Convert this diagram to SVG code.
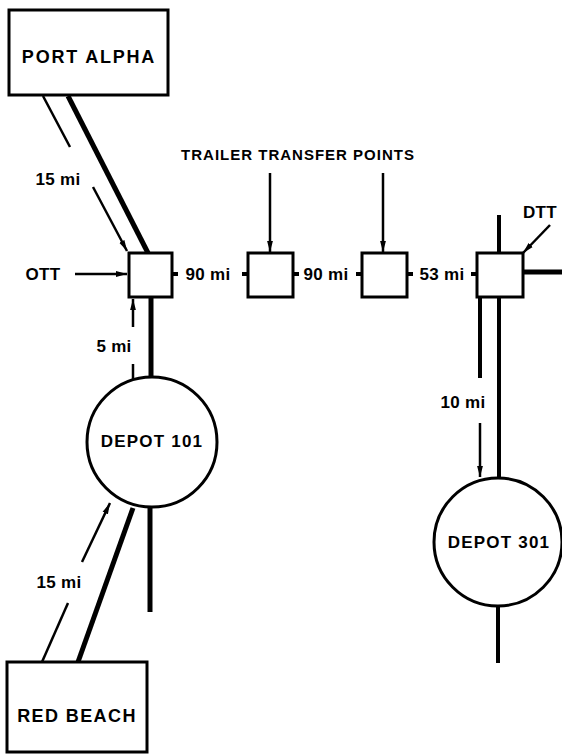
<svg xmlns="http://www.w3.org/2000/svg" width="562" height="754" viewBox="0 0 562 754">
<style>
text{font-family:"Liberation Sans",Arial,sans-serif;font-weight:bold;fill:#000}
.lbl{font-size:17px;text-anchor:middle;letter-spacing:0.3px}
.name{font-size:17px;text-anchor:middle;letter-spacing:1.2px}
.box{fill:#fff;stroke:#000;stroke-width:3}
.thick{stroke:#000;stroke-width:5;fill:none}
.med{stroke:#000;stroke-width:4;fill:none}
.thin{stroke:#000;stroke-width:2.5;fill:none}
</style>
<defs>
<marker id="ah" markerUnits="userSpaceOnUse" markerWidth="11" markerHeight="17" viewBox="0 0 17 11" refX="17" refY="5.5" orient="auto">
<path d="M0,1 L17,5.5 L0,10 Z" fill="#000"/>
</marker>
</defs>
<rect width="562" height="754" fill="#fff"/>
<g id="connectors">
<line class="thick" x1="68" y1="96" x2="148" y2="253"/>
<line class="thin" x1="43" y1="96" x2="70" y2="147"/>
<line class="thin" x1="93" y1="187" x2="127" y2="251" marker-end="url(#ah)"/>
<line class="thin" x1="75" y1="274" x2="127" y2="274" marker-end="url(#ah)"/>
<line class="thick" x1="151" y1="297" x2="151" y2="378"/>
<line class="thin" x1="133" y1="379" x2="133" y2="364"/>
<line class="thin" x1="133" y1="327" x2="133" y2="299" marker-end="url(#ah)"/>
<line class="thick" x1="150" y1="507" x2="150" y2="612"/>
<line class="thick" x1="133" y1="508" x2="78" y2="662"/>
<line class="thin" x1="42" y1="662" x2="68" y2="603"/>
<line class="thin" x1="82" y1="562" x2="110" y2="503" marker-end="url(#ah)"/>
<line class="thin" x1="270" y1="173" x2="270" y2="252" marker-end="url(#ah)"/>
<line class="thin" x1="383" y1="173" x2="383" y2="252" marker-end="url(#ah)"/>
<line class="med" x1="499" y1="215" x2="499" y2="253"/>
<line class="thick" x1="523" y1="272" x2="562" y2="272"/>
<line class="thin" x1="550" y1="225" x2="523" y2="253" marker-end="url(#ah)"/>
<line class="med" x1="480" y1="297" x2="480" y2="378"/>
<line class="thin" x1="480" y1="423" x2="480" y2="477" marker-end="url(#ah)"/>
<line class="med" x1="499" y1="297" x2="499" y2="477"/>
<line class="med" x1="498" y1="607" x2="498" y2="663"/>
<line class="med" x1="172" y1="274" x2="178" y2="274"/>
<line class="med" x1="242" y1="274" x2="248" y2="274"/>
<line class="med" x1="293" y1="274" x2="299" y2="274"/>
<line class="med" x1="356" y1="274" x2="362" y2="274"/>
<line class="med" x1="407" y1="274" x2="413" y2="274"/>
<line class="med" x1="471" y1="274" x2="477" y2="274"/>
</g>
<g id="port-alpha">
<rect class="box" x="9" y="10" width="159" height="85"/>
<text class="name" x="89" y="63" style="font-size:18px;letter-spacing:1.8px">PORT ALPHA</text>
</g>
<g id="red-beach">
<rect class="box" x="7" y="662" width="140" height="90"/>
<text class="name" x="77" y="722" style="font-size:18px;letter-spacing:1.4px">RED BEACH</text>
</g>
<g id="depot-101">
<circle class="box" cx="152" cy="442" r="65"/>
<text class="name" x="152" y="447">DEPOT 101</text>
</g>
<g id="depot-301">
<circle class="box" cx="498" cy="542" r="64"/>
<text class="name" x="499" y="548">DEPOT 301</text>
</g>
<g id="ttp-1"><rect class="box" x="129" y="253" width="43" height="44"/></g>
<g id="ttp-2"><rect class="box" x="248" y="253" width="45" height="44"/></g>
<g id="ttp-3"><rect class="box" x="362" y="253" width="45" height="44"/></g>
<g id="ttp-4"><rect class="box" x="477" y="253" width="46" height="44"/></g>
<g id="labels">
<text class="lbl" x="298" y="160" style="font-size:15px;letter-spacing:1px">TRAILER TRANSFER POINTS</text>
<text class="lbl" x="58" y="185">15 mi</text>
<text class="lbl" x="43" y="280">OTT</text>
<text class="lbl" x="208" y="280">90 mi</text>
<text class="lbl" x="326" y="280">90 mi</text>
<text class="lbl" x="442" y="280">53 mi</text>
<text class="lbl" x="114" y="352">5 mi</text>
<text class="lbl" x="59" y="588">15 mi</text>
<text class="lbl" x="463" y="408">10 mi</text>
<text class="lbl" x="523" y="218" style="text-anchor:start">DTT</text>
</g>
</svg>
